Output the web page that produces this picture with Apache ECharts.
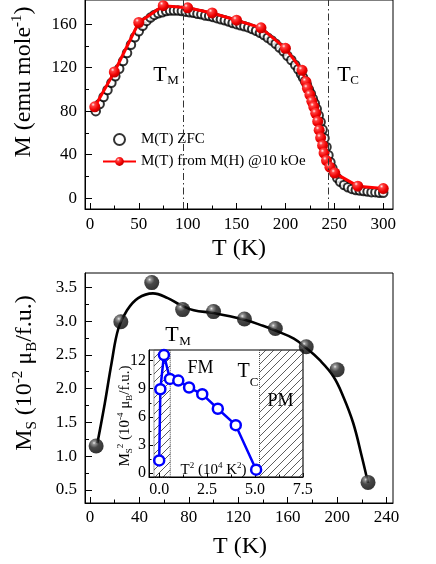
<!DOCTYPE html>
<html lang="en">
<head>
<meta charset="UTF-8">
<title>M(T) and Ms(T)</title>
<script src="https://cdn.jsdelivr.net/npm/echarts@6.0.0/dist/echarts.min.js"></script>
<style>
  html, body { margin: 0; padding: 0; background: #fff; }
  #chart { width: 436px; height: 564px; }
</style>
</head>
<body>
<div id="chart"></div>
<script type="text/javascript">
var FONT = "'Liberation Serif', 'Times New Roman', serif";

// ---- top panel: M(T) ----
var zfcT = [6,10,14,18,22,26,30,34,38,42,46,50,54,58,62,66,70,74,78,82,86,90,94,98,102,106,110,114,118,122,
            126,130,134,138,142,146,150,154,158,162,166,170,174,178,182,186,190,194,198,202,206,210,213,216,
            218,220,222,224,226,228,230,232,234,236,238,240,242,244,246,248,250,253,256,260,264,268,272,276,
            280,284,288,292,296,300];
var zfcM = [80,86.5,93,99.5,106,112,119,126,133.5,141,148,153.5,158.5,163,166,168.5,170,171,172,172.5,
            172.5,172.5,172,171.5,171,170.5,169.5,169,168,167.5,166.5,165.5,164.5,163.5,162.5,161,160,159,158,157,
            155.5,154,152,150,147.5,145,142,138.5,135,131,127,122.5,118.5,114,111,107.5,104,100,96,91.5,
            87,82,76,70,63,55,47,39.5,33,27.5,23,18.5,15,12,10,8.5,7.5,7,6.5,6,5.5,5.5,5,5];
var mhT = [5,25,50,75,100,125,150,175,200,217,221,222.5,225,227,229,231,233,234.5,236,238,239.5,242,245.5,250.5,274,300];
var mhM = [84,116,161.5,177,175,170.3,163.6,156.6,137.8,117.5,107,101,95,89,84,78,70.5,62.5,55.5,48.5,41.5,34.5,28.5,23,11,8.8];
var tM = 95, tC = 244;

// ---- bottom panel: Ms(T) ----
var msT = [5,25,50,75,100,125,150,175,200,225];
var msV = [1.15,2.99,3.57,3.17,3.14,3.03,2.89,2.62,2.28,0.61];
var fitT = [6,12,17.5,23,30,39,51,63,73,84,100,125,140,150,165,175,186,197,205,213,220,225];
var fitV = [1.19,1.78,2.38,2.89,3.16,3.34,3.41,3.34,3.24,3.16,3.12,3.02,2.93,2.86,2.74,2.60,2.42,2.18,1.88,1.49,0.99,0.60];

// ---- inset: Ms^2 vs T^2 ----
var t2 = [0.0025,0.0625,0.25,0.5625,1.0,1.5625,2.25,3.0625,4.0,5.0625];
var ms2 = [1.34,8.95,12.6,10.05,9.87,9.13,8.42,6.86,5.11,0.35];
var fmBand = [-0.27, 0.58];
var pmBand = [5.24, 7.51];

// ---- ticks ----
var topXLab = [0,50,100,150,200,250,300], topXMin = [25,75,125,175,225,275];
var topYLab = [0,40,80,120,160], topYMin = [20,60,100,140];
var botXLab = [0,40,80,120,160,200,240], botXMin = [20,60,100,140,180,220];
var botYLab = [0.5,1.0,1.5,2.0,2.5,3.0,3.5], botYMin = [0.75,1.25,1.75,2.25,2.75,3.25];
var insXLab = [0,2.5,5,7.5], insXMin = [1.25,3.75,6.25];
var insYLab = [0,3,6,9,12], insYMin = [1.5,4.5,7.5,10.5];

function pairs(xs, ys) {
    var out = [];
    for (var i = 0; i < xs.length; i++) out.push([xs[i], ys[i]]);
    return out;
}

// main axis: line + long ticks + labels
function mainAxis(grid, min, max, pos, ticks, len, margin, fmt, fs) {
    return {
        type: 'value', gridIndex: grid, min: min, max: max, position: pos,
        axisLine: {show: true, onZero: false, lineStyle: {color: '#000', width: 1}},
        axisTick: {show: true, inside: true, length: len, customValues: ticks, lineStyle: {color: '#000', width: 1}},
        axisLabel: {show: true, customValues: ticks, margin: margin, formatter: fmt,
            color: '#000', fontFamily: FONT, fontSize: fs},
        splitLine: {show: false}
    };
}
// second axis only for short minor ticks
function minorAxis(grid, min, max, pos, ticks, len) {
    return {
        type: 'value', gridIndex: grid, min: min, max: max, position: pos,
        axisLine: {show: false, onZero: false},
        axisTick: {show: true, inside: true, length: len, customValues: ticks, lineStyle: {color: '#000', width: 1}},
        axisLabel: {show: false},
        splitLine: {show: false}
    };
}

function f0(v) { return String(v); }
function f1(v) { return v.toFixed(1); }

function rich(s) {
    var sm = Math.round(s * 0.62);
    return {
        n: {fontFamily: FONT, fontSize: s, lineHeight: Math.round(s * 1.2), verticalAlign: 'middle', fill: '#000', color: '#000'},
        sub: {fontFamily: FONT, fontSize: sm, lineHeight: sm, verticalAlign: 'bottom', fill: '#000', color: '#000'},
        sup: {fontFamily: FONT, fontSize: sm, lineHeight: sm, verticalAlign: 'top', fill: '#000', color: '#000'}
    };
}
function txt(x, y, text, size, rot) {
    return {
        type: 'text', x: x, y: y, rotation: rot || 0, z: 100,
        style: {text: text, rich: rich(size), fontFamily: FONT, fontSize: size, fill: '#000',
            align: 'center', verticalAlign: 'middle', textAlign: 'center', textVerticalAlign: 'middle'}
    };
}
function plain(x, y, text, size) {
    return {
        type: 'text', x: x, y: y, z: 100,
        style: {text: text, fontFamily: FONT, fontSize: size, fill: '#000',
            align: 'center', verticalAlign: 'middle', textAlign: 'center', textVerticalAlign: 'middle'}
    };
}

function hatchCanvas() {
    var c = document.createElement('canvas');
    c.width = 8; c.height = 8;
    var g = c.getContext('2d');
    g.strokeStyle = '#333';
    g.lineWidth = 0.8;
    g.beginPath();
    g.moveTo(0, 8); g.lineTo(8, 0);
    g.moveTo(-1, 1); g.lineTo(1, -1);
    g.moveTo(7, 9); g.lineTo(9, 7);
    g.stroke();
    return c;
}

var redBall = {type: 'radial', x: 0.35, y: 0.3, r: 0.75, colorStops: [
    {offset: 0, color: '#fff0f0'}, {offset: 0.22, color: '#ff4040'},
    {offset: 0.65, color: '#f00000'}, {offset: 1, color: '#b00000'}]};
var blackBall = {type: 'radial', x: 0.36, y: 0.3, r: 0.72, colorStops: [
    {offset: 0, color: '#e8e8e8'}, {offset: 0.15, color: '#777'},
    {offset: 0.45, color: '#1a1a1a'}, {offset: 1, color: '#000'}]};

var dom = document.getElementById('chart');
var myChart = echarts.init(dom, null, {renderer: 'canvas'});

var option = {
    animation: false,
    backgroundColor: '#fff',
    textStyle: {fontFamily: FONT, color: '#000'},
    grid: [
        {left: 85, top: -2, width: 308, height: 211, show: true, borderColor: '#000', borderWidth: 1, backgroundColor: 'transparent'},
        {left: 85, top: 273, width: 308, height: 230, show: true, borderColor: '#000', borderWidth: 1, backgroundColor: 'transparent'},
        {left: 149, top: 350, width: 154, height: 127, show: true, borderColor: '#000', borderWidth: 1, backgroundColor: '#fff'}
    ],
    xAxis: [
        mainAxis(0, -5, 310, 'bottom', topXLab, 6, 7, f0, 17),
        minorAxis(0, -5, 310, 'bottom', topXMin, 3.5),
        mainAxis(1, -4, 245.2, 'bottom', botXLab, 6, 6, f0, 17),
        minorAxis(1, -4, 245.2, 'bottom', botXMin, 3.5),
        mainAxis(2, -0.53, 7.51, 'bottom', insXLab, 4, 5, f1, 16),
        minorAxis(2, -0.53, 7.51, 'bottom', insXMin, 2.5)
    ],
    yAxis: [
        mainAxis(0, -10, 182.2, 'left', topYLab, 7, 8, f0, 17),
        minorAxis(0, -10, 182.2, 'left', topYMin, 4),
        mainAxis(1, 0.305, 3.712, 'left', botYLab, 7, 8, f1, 17),
        minorAxis(1, 0.305, 3.712, 'left', botYMin, 4),
        mainAxis(2, -0.43, 13.14, 'left', insYLab, 4, 3, f0, 16),
        minorAxis(2, -0.43, 13.14, 'left', insYMin, 2.5)
    ],
    legend: {
        data: ['M(T) ZFC', 'M(T) from M(H) @10 kOe'],
        orient: 'vertical', left: 97, top: 127,
        itemWidth: 33, itemHeight: 11, itemGap: 7,
        textStyle: {fontFamily: FONT, fontSize: 15, color: '#000'}
    },
    series: [
        {
            name: 'M(T) ZFC', type: 'scatter', xAxisIndex: 0, yAxisIndex: 0,
            data: pairs(zfcT, zfcM), symbol: 'circle', symbolSize: 8.5,
            itemStyle: {color: '#fff', borderColor: '#000', borderWidth: 2},
            z: 2,
            markLine: {
                silent: true, symbol: 'none', label: {show: false},
                lineStyle: {color: '#333', width: 1, type: [7, 3, 1.5, 3]},
                data: [{xAxis: tM}, {xAxis: tC}]
            }
        },
        {
            name: 'M(T) from M(H) @10 kOe', type: 'line', xAxisIndex: 0, yAxisIndex: 0,
            data: pairs(mhT, mhM), symbol: 'circle', symbolSize: 11, showAllSymbol: true,
            lineStyle: {color: '#ff0000', width: 3},
            itemStyle: {color: redBall, borderWidth: 0},
            z: 3
        },
        {
            name: 'fit', type: 'line', xAxisIndex: 2, yAxisIndex: 2,
            data: pairs(fitT, fitV), smooth: 0.4, symbol: 'none',
            lineStyle: {color: '#000', width: 2.6}, z: 2
        },
        {
            name: 'Ms', type: 'scatter', xAxisIndex: 2, yAxisIndex: 2,
            data: pairs(msT, msV), symbol: 'circle', symbolSize: 15,
            itemStyle: {color: blackBall}, z: 5
        },
        {
            name: 'Ms2', type: 'line', xAxisIndex: 4, yAxisIndex: 4,
            data: pairs(t2, ms2), symbol: 'circle', symbolSize: 10, showAllSymbol: true,
            lineStyle: {color: '#0000ff', width: 2.5},
            itemStyle: {color: '#fff', borderColor: '#0000ff', borderWidth: 2.5},
            z: 4,
            markArea: {
                silent: true,
                itemStyle: {color: {image: hatchCanvas(), repeat: 'repeat'}, borderColor: '#444', borderWidth: 1, borderType: 'dotted'},
                data: [[{xAxis: fmBand[0]}, {xAxis: fmBand[1]}], [{xAxis: pmBand[0]}, {xAxis: pmBand[1]}]]
            }
        }
    ],
    graphic: [
        txt(24, 82, '{n|M (emu mole}{sup|-1}{n|)}', 24, Math.PI / 2),
        txt(239, 249, '{n|T (K)}', 24),
        txt(25, 373, '{n|M}{sub|S}{n| (10}{sup|-2}{n| \u03bc}{sub|B}{n|/f.u.)}', 24, Math.PI / 2),
        txt(240, 547, '{n|T (K)}', 24),
        plain(160, 75, 'T', 22), plain(173, 81, 'M', 13),
        plain(344, 75, 'T', 22), plain(354.5, 81, 'C', 13),
        plain(172, 335, 'T', 22), plain(185, 342, 'M', 13),
        plain(200.5, 368.5, 'FM', 18),
        plain(243.5, 371.5, 'T', 20), plain(254, 383, 'C', 13),
        plain(280.5, 401, 'PM', 18),
        txt(213.5, 470, '{n|T}{sup|2}{n| (10}{sup|4}{n| K}{sup|2}{n|)}', 15),
        txt(125, 416, '{n|M}{sub|S}{sup|2}{n| (10}{sup|-4}{n| \u03bc}{sub|B}{n|/f.u.)}', 15, Math.PI / 2)
    ]
};

if (option && typeof option === 'object') {
    myChart.setOption(option, true);
}
</script>
</body>
</html>
